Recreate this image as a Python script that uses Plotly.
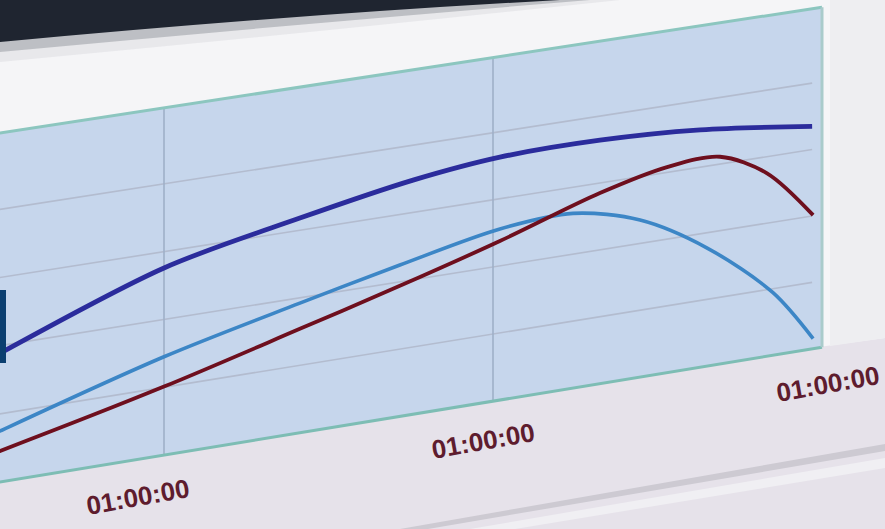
import plotly.graph_objects as go

# ---------------- data (in chart units) ----------------
x_ticks = [1, 2, 3]
tick_labels = ["01:00:00", "01:00:00", "01:00:00"]
y_grid = [1, 2, 3, 4]
x_range = [0, 3]
y_range = [0, 5.12]

navy_t = [0.35, 0.502, 1.0, 1.413, 1.757, 2.021, 2.325, 2.63, 2.97]
navy_v = [1.60, 1.89, 2.76, 3.18, 3.48, 3.62, 3.64, 3.56, 3.35]

red_t = [0.35, 0.502, 1.0, 1.413, 1.717, 2.021, 2.325, 2.529, 2.69, 2.833, 2.973]
red_v = [0.30, 0.455, 1.01, 1.54, 1.94, 2.37, 2.85, 3.08, 3.11, 2.75, 2.01]

sky_t = [0.35, 0.502, 1.0, 1.413, 1.717, 2.021, 2.243, 2.447, 2.651, 2.851, 2.973]
sky_v = [0.52, 0.748, 1.45, 1.92, 2.25, 2.55, 2.61, 2.35, 1.77, 0.94, 0.15]

# ---------------- perspective projection of the chart plane ----------------
X0, XS = -165.0, 329.0          # screen x of t=0, pixels per unit
TOP0, TOPS = 133.0, 0.153       # top edge line
BOT0, BOTS = 482.0, 0.164       # bottom edge line


def proj(t, v):
    x = X0 + XS * t
    yt = TOP0 - TOPS * x
    yb = BOT0 - BOTS * x
    return x, yb - (v - y_range[0]) / (y_range[1] - y_range[0]) * (yb - yt)


def proj_list(ts, vs):
    pts = [proj(t, v) for t, v in zip(ts, vs)]
    return [p[0] for p in pts], [p[1] for p in pts]


fig = go.Figure()

# plot-area fill
cx, cy = proj_list([x_range[0], x_range[1], x_range[1], x_range[0], x_range[0]],
                   [y_range[0], y_range[0], y_range[1], y_range[1], y_range[0]])
fig.add_trace(go.Scatter(x=cx, y=cy, mode="lines", fill="toself",
                         fillcolor="#c6d6ec", line=dict(width=0),
                         hoverinfo="skip", showlegend=False))

# horizontal grid lines
for g in y_grid:
    gx, gy = proj_list([x_range[0], x_range[1] - 0.03], [g, g])
    fig.add_trace(go.Scatter(x=gx, y=gy, mode="lines",
                             line=dict(color="#b3bccf", width=1.6),
                             hoverinfo="skip", showlegend=False))
# vertical grid lines
for t in x_ticks[:-1]:
    gx, gy = proj_list([t, t], [y_range[0], y_range[1]])
    fig.add_trace(go.Scatter(x=gx, y=gy, mode="lines",
                             line=dict(color="#9fb0c8", width=1.6),
                             hoverinfo="skip", showlegend=False))

# frame edges
for ts, vs, col, w in [
    ([x_range[0], x_range[1]], [y_range[1], y_range[1]], "#8cc6bf", 3),
    ([x_range[0], x_range[1]], [y_range[0], y_range[0]], "#7dbdb4", 3),
    ([x_range[1], x_range[1]], [y_range[0], y_range[1]], "#a9cbcb", 3),
]:
    ex, ey = proj_list(ts, vs)
    fig.add_trace(go.Scatter(x=ex, y=ey, mode="lines", line=dict(color=col, width=w),
                             hoverinfo="skip", showlegend=False))

# series
for ts, vs, col, w in [
    (sky_t, sky_v, "#3c86c6", 3.6),
    (red_t, red_v, "#6e0f1e", 3.8),
    (navy_t, navy_v, "#2b2c9c", 4.8),
]:
    sx, sy = proj_list(ts, vs)
    fig.add_trace(go.Scatter(x=sx, y=sy, mode="lines",
                             line=dict(color=col, width=w, shape="spline", smoothing=0.9),
                             hoverinfo="skip", showlegend=False))

# tick labels
annotations = []
for t, lab in zip(x_ticks, tick_labels):
    lx = 138 + (t - 1) * 345
    ly = 497 - (t - 1) * 56.5
    annotations.append(dict(x=lx, y=ly, xref="x", yref="y", text=lab, showarrow=False,
                            textangle=-10, xanchor="center", yanchor="middle",
                            font=dict(family="Liberation Sans, Arial",
                                      size=26, color="#5e1c2e", weight="bold")))

shapes = [
    # lower lavender screen surface
    dict(type="path", path="M0,482 L826,346 L885,338 L885,529 L0,529 Z",
         fillcolor="#e6e2ea", line=dict(width=0), layer="below"),
    # bezel lines bottom-right
    dict(type="path", path="M400,529 L885,444 L885,451 L428,529 Z",
         fillcolor="#cdcad2", line=dict(width=0), layer="below"),
    dict(type="path", path="M470,529 L885,458 L885,468 L515,529 Z",
         fillcolor="#f0eff3", line=dict(width=0), layer="below"),
    # right strip
    dict(type="path", path="M830,0 L885,0 L885,338 L830,346 Z",
         fillcolor="#eeeef1", line=dict(width=0), layer="below"),
    # dark top-left area with soft edge
    dict(type="path", path="M0,0 L620,0 Q300,34 0,62 Z",
         fillcolor="#c9cbd0", line=dict(width=0), layer="below", opacity=0.3),
    dict(type="path", path="M0,0 L590,0 Q300,24 0,52 Z",
         fillcolor="#7d818a", line=dict(width=0), layer="below", opacity=0.4),
    dict(type="path", path="M0,0 L560,0 Q300,14 0,42 Z",
         fillcolor="#1f2530", line=dict(width=0), layer="below"),
    # navy tab on left
    dict(type="rect", x0=0, x1=6, y0=290, y1=363, fillcolor="#0b3f70",
         line=dict(width=0), layer="above"),
]

fig.update_layout(
    width=885, height=529,
    margin=dict(l=0, r=0, t=0, b=0),
    paper_bgcolor="#f5f5f7", plot_bgcolor="#f5f5f7",
    xaxis=dict(range=[0, 885], visible=False, fixedrange=True),
    yaxis=dict(range=[529, 0], visible=False, fixedrange=True),
    shapes=shapes, annotations=annotations, showlegend=False,
)

fig.write_html("out.html", config={"displayModeBar": False},
               post_script="document.body.style.margin='0';document.body.style.overflow='hidden';")
